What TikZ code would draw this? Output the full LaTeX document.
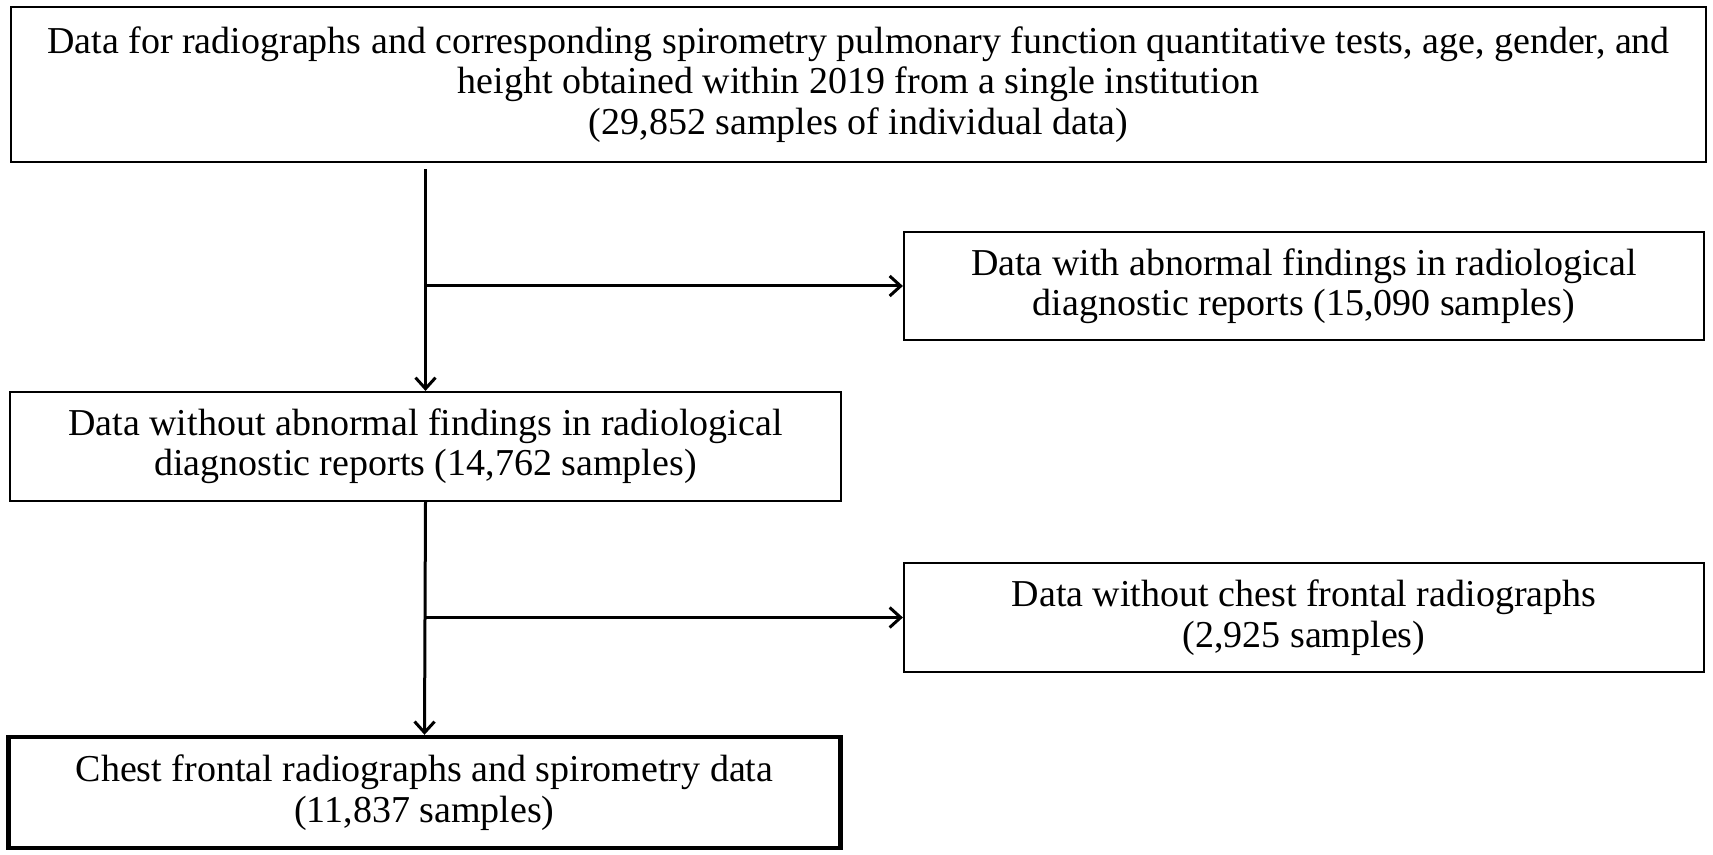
\documentclass[tikz,border=0pt]{standalone}
\usepackage{fontspec}
\setmainfont{Liberation Serif}
\usetikzlibrary{arrows.meta}
\begin{document}
\begin{tikzpicture}[x=0.5pt,y=-0.5pt,
  box/.style={draw=black, line width=1.1pt, align=center, inner sep=0pt,
    font=\fontsize{19}{20.2}\selectfont},
  finalbox/.style={box, line width=2.2pt},
  flow/.style={draw=black, line width=1.5pt, -{Straight Barb[length=5.5pt,width=10pt,line width=1.5pt]}}]
\fill[white] (0,0) rectangle (1713,855);
\useasboundingbox (0,0) rectangle (1713,855);

\node[box, minimum width=847.5pt, minimum height=77.5pt] (top) at (858.5,84.5)
  {Data for radiographs and corresponding spirometry pulmonary function quantitative tests, age, gender, and\\
   height obtained within 2019 from a single institution\\
   (29,852 samples of individual data)};
\node[box, minimum width=400pt, minimum height=54pt] (r1) at (1304,286)
  {Data with abnormal findings in radiological\\ diagnostic reports (15,090 samples)};
\node[box, minimum width=415.5pt, minimum height=54.5pt] (mid) at (425.5,446.5)
  {Data without abnormal findings in radiological\\ diagnostic reports (14,762 samples)};
\node[box, minimum width=400pt, minimum height=54.5pt] (r2) at (1304,617.5)
  {Data without chest frontal radiographs\\ (2,925 samples)};
\node[finalbox, minimum width=416pt, minimum height=55.5pt] (fin) at (424.5,792.5)
  {Chest frontal radiographs and spirometry data\\ (11,837 samples)};

\coordinate (j1) at (mid.north |- r1.west);
\coordinate (j2) at (mid.north |- r2.west);

\draw[flow, shorten <=3pt] (top.south -| mid.north) -- (mid.north);
\draw[flow] (j1) -- (r1.west);
\draw[flow] (mid.south) -- (fin.north);
\draw[flow] (j2) -- (r2.west);
\end{tikzpicture}
\end{document}
